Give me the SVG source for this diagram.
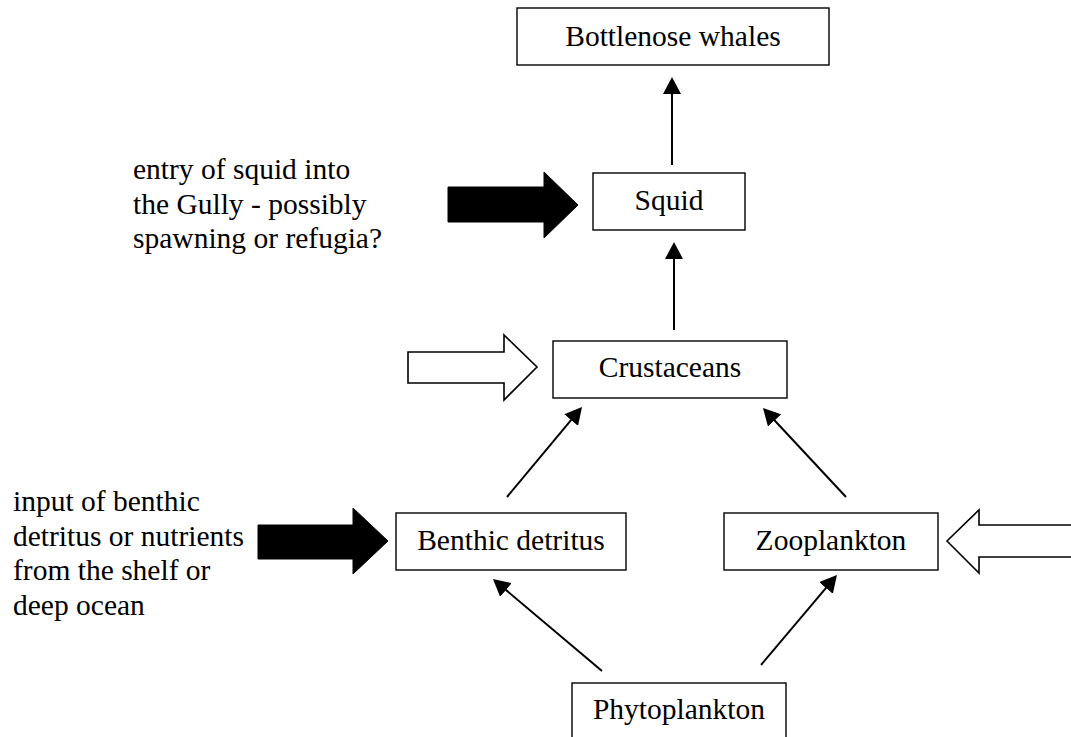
<svg xmlns="http://www.w3.org/2000/svg" width="1071" height="737" viewBox="0 0 1071 737">
<style>
text{font-family:'Liberation Serif','Times New Roman',Times,serif;font-size:29.5px;fill:#000}
.n{text-anchor:middle}
.box{fill:#fff;stroke:#000;stroke-width:1.4}
.ln{stroke:#000;stroke-width:2;fill:none;marker-end:url(#ah)}
.blk{fill:#000;stroke:#000;stroke-width:1}
.wht{fill:#fff;stroke:#000;stroke-width:1.6}
</style>
<defs>
<marker id="ah" viewBox="0 0 17 18" refX="7" refY="9" markerWidth="17" markerHeight="18" markerUnits="userSpaceOnUse" orient="auto">
<path d="M0,0 L17,9 L0,18 z" fill="#000"/>
</marker>
</defs>
<rect width="1071" height="737" fill="#fff"/>
<g id="connectors">
<line class="ln" x1="672" y1="165" x2="672" y2="87"/>
<line class="ln" x1="674" y1="330" x2="674" y2="252"/>
<line class="ln" x1="507" y1="497" x2="575.6" y2="414.7"/>
<line class="ln" x1="846" y1="497" x2="769.8" y2="415.3"/>
<line class="ln" x1="602" y1="671" x2="500.6" y2="585.5"/>
<line class="ln" x1="761" y1="665" x2="830.5" y2="582.6"/>
<polygon class="blk" points="448,187 544,187 544,172 578,205 544,238 544,222 448,222"/>
<polygon class="wht" points="408,352 504,352 504,335 537,367 504,400 504,383 408,383"/>
<polygon class="blk" points="258,525 353,525 353,508 388,541 353,574 353,559 258,559"/>
<polygon class="wht" points="1080,525 979,525 979,510 947,541 979,573 979,557 1080,557"/>
</g>
<g id="whales"><rect class="box" x="517" y="8" width="312" height="57"/><text class="n" x="673" y="46">Bottlenose whales</text></g>
<g id="squid"><rect class="box" x="593" y="173" width="152" height="57"/><text class="n" x="669" y="210">Squid</text></g>
<g id="crustaceans"><rect class="box" x="553" y="341" width="234" height="57"/><text class="n" x="670" y="377">Crustaceans</text></g>
<g id="benthic"><rect class="box" x="396" y="513" width="230" height="57"/><text class="n" x="511" y="550">Benthic detritus</text></g>
<g id="zooplankton"><rect class="box" x="724" y="513" width="214" height="57"/><text class="n" x="831" y="550">Zooplankton</text></g>
<g id="phytoplankton"><rect class="box" x="572" y="683" width="214" height="80"/><text class="n" x="679" y="719">Phytoplankton</text></g>
<g id="squid-note">
<text x="133" y="179">entry of squid into</text>
<text x="133" y="214">the Gully - possibly</text>
<text x="133" y="248">spawning or refugia?</text>
</g>
<g id="benthic-note">
<text x="13" y="511">input of benthic</text>
<text x="13" y="546">detritus or nutrients</text>
<text x="13" y="580">from the shelf or</text>
<text x="13" y="615">deep ocean</text>
</g>
</svg>
